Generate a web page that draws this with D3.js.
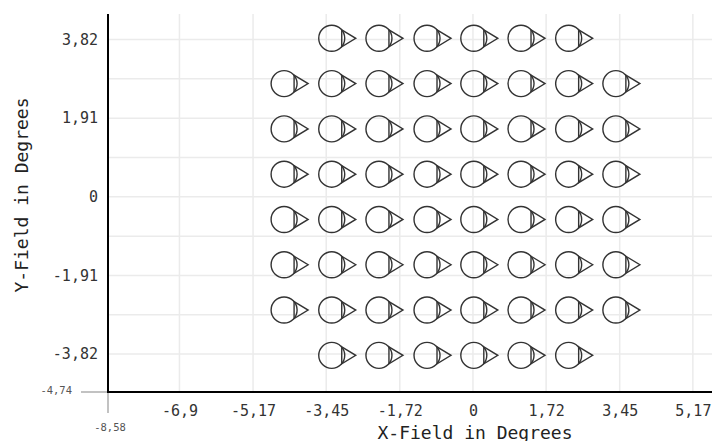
<!DOCTYPE html>
<html>
<head>
<meta charset="utf-8">
<script src="https://cdn.jsdelivr.net/npm/d3@7"></script>
<style>
  html, body { margin: 0; padding: 0; background: #fff; }
  svg { display: block; }
</style>
</head>
<body>
<svg id="chart" width="712" height="441"></svg>
<script>
// ---- data ----
const xTickValues = [-6.9, -5.17, -3.45, -1.72, 0, 1.72, 3.45, 5.17];
const xTickLabels = ["-6,9", "-5,17", "-3,45", "-1,72", "0", "1,72", "3,45", "5,17"];
const yTickValues = [3.82, 1.91, 0, -1.91, -3.82];
const yTickLabels = ["3,82", "1,91", "0", "-1,91", "-3,82"];
const yGridValues = [3.82, 2.865, 1.91, 0.955, 0, -0.955, -1.91, -2.865, -3.82];
const xMin = -8.58, xMinLabel = "-8,58";
const yMin = -4.74, yMinLabel = "-4,74";
const columnX = [-4.44, -3.32, -2.21, -1.08, 0.02, 1.13, 2.25, 3.36];
const rowY = [3.85, 2.75, 1.65, 0.55, -0.55, -1.65, -2.75, -3.85];
// which columns are present in each row (1 = glyph drawn)
const rowMask = [
  [0, 1, 1, 1, 1, 1, 1, 0],
  [1, 1, 1, 1, 1, 1, 1, 1],
  [1, 1, 1, 1, 1, 1, 1, 1],
  [1, 1, 1, 1, 1, 1, 1, 1],
  [1, 1, 1, 1, 1, 1, 1, 1],
  [1, 1, 1, 1, 1, 1, 1, 1],
  [1, 1, 1, 1, 1, 1, 1, 1],
  [0, 1, 1, 1, 1, 1, 1, 0]
];
const xTitle = "X-Field in Degrees";
const yTitle = "Y-Field in Degrees";

// ---- build ----
const points = [];
rowY.forEach((yv, ri) => columnX.forEach((xv, ci) => {
  if (rowMask[ri][ci]) points.push({x: xv, y: yv});
}));

const svg = d3.select("#chart");
const x = d3.scaleLinear().domain([xMin, 5.62]).range([108, 712]);
const y = d3.scaleLinear().domain([yMin, 4.44]).range([392, 14]);
const mono = "'DejaVu Sans Mono', monospace";

// grid
svg.append("g").selectAll("line").data(xTickValues).join("line")
  .attr("x1", d => x(d)).attr("x2", d => x(d))
  .attr("y1", y.range()[1]).attr("y2", y.range()[0])
  .attr("stroke", "#ebebeb").attr("stroke-width", 1.5);
svg.append("g").selectAll("line").data(yGridValues).join("line")
  .attr("x1", x.range()[0]).attr("x2", x.range()[1])
  .attr("y1", d => y(d)).attr("y2", d => y(d))
  .attr("stroke", "#ebebeb").attr("stroke-width", 1.5);

// x axis
const xAxis = d3.axisBottom(x).tickValues(xTickValues)
  .tickFormat((d, i) => xTickLabels[i]).tickSize(0).tickPadding(13);
const gx = svg.append("g").attr("transform", `translate(0,${y(yMin)})`).call(xAxis);
gx.select(".domain").remove();
gx.selectAll("text").attr("font-family", mono).attr("font-size", 15).attr("fill", "#333");

// y axis
const yAxis = d3.axisLeft(y).tickValues(yTickValues)
  .tickFormat((d, i) => yTickLabels[i]).tickSize(0).tickPadding(10);
const gy = svg.append("g").attr("transform", `translate(${x(xMin)},0)`).call(yAxis);
gy.select(".domain").remove();
gy.selectAll("text").attr("font-family", mono).attr("font-size", 15).attr("fill", "#333");

// corner min ticks
svg.append("line").attr("x1", x(xMin) - 27).attr("x2", x(xMin))
  .attr("y1", y(yMin)).attr("y2", y(yMin)).attr("stroke", "#999").attr("stroke-width", 1.2);
svg.append("line").attr("x1", x(xMin)).attr("x2", x(xMin))
  .attr("y1", y(yMin)).attr("y2", y(yMin) + 21).attr("stroke", "#999").attr("stroke-width", 1.2);
svg.append("text").attr("x", x(xMin) + 2).attr("y", y(yMin) + 39)
  .attr("text-anchor", "middle").attr("font-family", mono).attr("font-size", 10.5)
  .attr("fill", "#555").text(xMinLabel);
svg.append("text").attr("x", x(xMin) - 36).attr("y", y(yMin) + 2)
  .attr("text-anchor", "end").attr("font-family", mono).attr("font-size", 10.5)
  .attr("fill", "#555").text(yMinLabel);

// axis lines
svg.append("line").attr("x1", x(xMin)).attr("x2", x.range()[1])
  .attr("y1", y(yMin)).attr("y2", y(yMin)).attr("stroke", "#000").attr("stroke-width", 2);
svg.append("line").attr("x1", x(xMin)).attr("x2", x(xMin))
  .attr("y1", y.range()[1]).attr("y2", y(yMin) + 1).attr("stroke", "#000").attr("stroke-width", 2);

// titles
svg.append("text").attr("x", 475).attr("y", 439).attr("text-anchor", "middle")
  .attr("font-family", mono).attr("font-size", 18).attr("fill", "#222").text(xTitle);
svg.append("text").attr("transform", "translate(28,195) rotate(-90)").attr("text-anchor", "middle")
  .attr("font-family", mono).attr("font-size", 18).attr("fill", "#222").text(yTitle);

// glyphs: circle + right-pointing triangle
const r = 13;
const g = svg.append("g").selectAll("g").data(points).join("g")
  .attr("transform", d => `translate(${x(d.x)},${y(d.y)})`)
  .attr("fill", "none").attr("stroke", "#333").attr("stroke-width", 1.4);
g.append("circle").attr("r", r);
g.append("path").attr("d", "M10,-8.5L24,0L10,8.5Z");
</script>
</body>
</html>
